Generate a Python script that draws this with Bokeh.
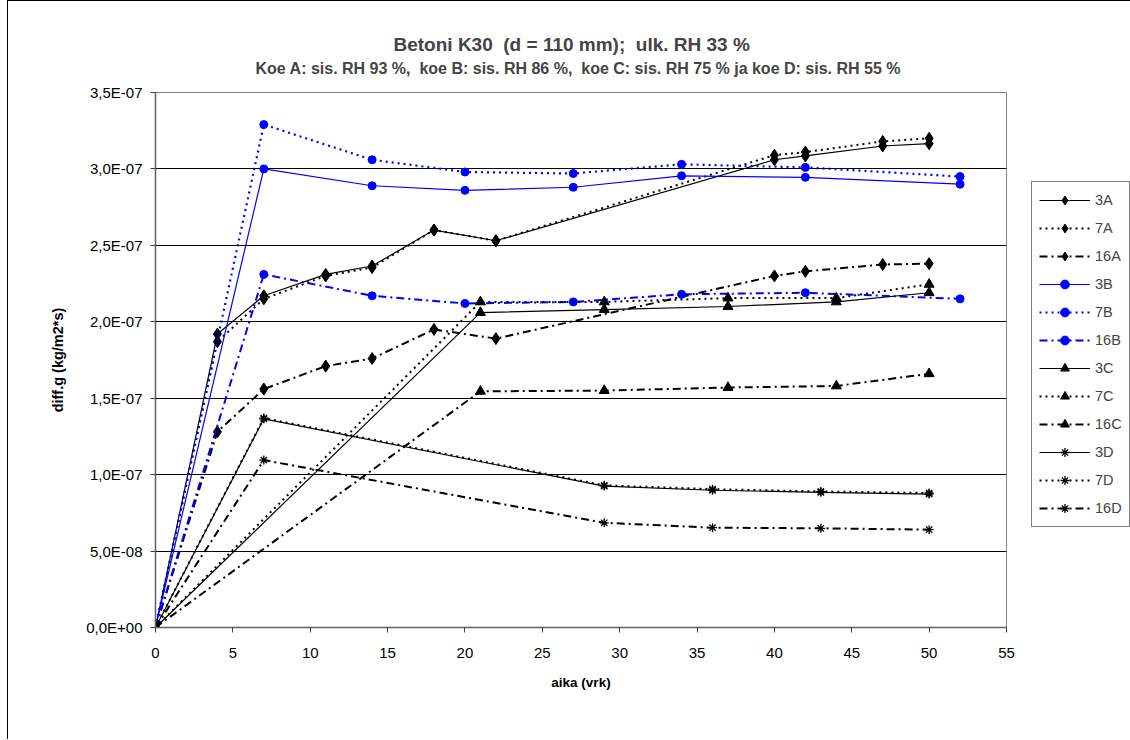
from bokeh.plotting import figure
from bokeh.models import (Range1d, FixedTicker, CustomJSTickFormatter, Legend, LegendItem,
                          Title, ColumnDataSource)
from bokeh.embed import file_html
from bokeh.resources import INLINE

# ---- data (days, kg/m2*s) ----
x_A = [0, 4, 7, 11, 14, 18, 22, 40, 42, 47, 50]
y_3A = [0, 1.92e-7, 2.17e-7, 2.31e-7, 2.365e-7, 2.60e-7, 2.53e-7, 3.06e-7, 3.085e-7, 3.15e-7, 3.165e-7]
y_7A = [0, 1.87e-7, 2.15e-7, 2.30e-7, 2.355e-7, 2.60e-7, 2.53e-7, 3.09e-7, 3.11e-7, 3.18e-7, 3.20e-7]
y_16A = [0, 1.28e-7, 1.56e-7, 1.71e-7, 1.76e-7, 1.95e-7, 1.89e-7, 2.30e-7, 2.33e-7, 2.375e-7, 2.38e-7]

x_B = [0, 7, 14, 20, 27, 34, 42, 52]
y_3B = [0, 3.00e-7, 2.89e-7, 2.86e-7, 2.88e-7, 2.955e-7, 2.945e-7, 2.90e-7]
y_7B = [0, 3.29e-7, 3.06e-7, 2.98e-7, 2.97e-7, 3.03e-7, 3.01e-7, 2.95e-7]
y_16B = [0, 2.31e-7, 2.17e-7, 2.12e-7, 2.13e-7, 2.18e-7, 2.19e-7, 2.15e-7]

x_C = [0, 21, 29, 37, 44, 50]
y_3C = [0, 2.06e-7, 2.08e-7, 2.10e-7, 2.13e-7, 2.19e-7]
y_7C = [0, 2.13e-7, 2.13e-7, 2.155e-7, 2.155e-7, 2.245e-7]
y_16C = [0, 1.545e-7, 1.55e-7, 1.57e-7, 1.58e-7, 1.66e-7]

x_D = [0, 7, 29, 36, 43, 50]
y_3D = [0, 1.365e-7, 0.925e-7, 0.898e-7, 0.884e-7, 0.873e-7]
y_7D = [0, 1.37e-7, 0.93e-7, 0.905e-7, 0.89e-7, 0.88e-7]
y_16D = [0, 1.095e-7, 0.685e-7, 0.653e-7, 0.649e-7, 0.640e-7]

x_ticks = [0, 5, 10, 15, 20, 25, 30, 35, 40, 45, 50, 55]
y_ticks = [0.0, 0.5e-7, 1.0e-7, 1.5e-7, 2.0e-7, 2.5e-7, 3.0e-7, 3.5e-7]

NB = "\u00a0"
title_main = "Betoni K30" + NB + NB + "(d = 110 mm);" + NB + NB + "ulk. RH 33 %"
title_sub = ("Koe A: sis. RH 93 %," + NB + NB + "koe B: sis. RH 86 %," + NB + NB +
             "koe C: sis. RH 75 % ja koe D: sis. RH 55 %")
x_label = "aika (vrk)"
y_label = "diff.g (kg/m2*s)"

FONT = "Liberation Sans"
BLUE = "#0000FF"
BLACK = "#000000"

p = figure(output_backend="svg", toolbar_location=None, title=None,
           frame_width=851, frame_height=535,
           min_border_left=147, min_border_right=122, min_border_top=91, min_border_bottom=112,
           x_range=Range1d(0, 55), y_range=Range1d(0, 3.5e-7))
p.styles = {"margin-left": "7px", "border-left": "1px solid #000", "border-top": "1px solid #000",
            "border-right": "1px solid #444"}

p.outline_line_color = "#808080"
p.outline_line_width = 1
p.background_fill_color = "white"
p.border_fill_color = "white"

p.xgrid.visible = False
p.ygrid.grid_line_color = "black"
p.ygrid.grid_line_width = 1

p.xaxis.ticker = FixedTicker(ticks=x_ticks)
p.yaxis.ticker = FixedTicker(ticks=y_ticks)
p.yaxis.formatter = CustomJSTickFormatter(code="""
var s = tick.toExponential(1).replace('.', ',');
return s.replace(/e([+-])(\\d+)$/, function(m, sg, d){ return 'E' + sg + (d.length < 2 ? '0' + d : d); });
""")
for ax in (p.xaxis[0], p.yaxis[0]):
    ax.axis_line_color = "#606060"
    ax.axis_line_width = 1.5
    ax.major_tick_line_color = "#404040"
    ax.major_tick_in = 0
    ax.major_tick_out = 5
    ax.minor_tick_line_color = None
    ax.major_label_text_font = FONT
    ax.major_label_text_font_size = "15px"
    ax.major_label_text_color = "black"
    ax.axis_label_text_font = FONT
    ax.axis_label_text_font_style = "bold"
    ax.axis_label_text_color = "black"
p.xaxis.axis_label = x_label
p.yaxis.axis_label = y_label
p.xaxis.axis_label_text_font_size = "13.5px"
p.yaxis.axis_label_text_font_size = "14.5px"
p.xaxis.major_label_standoff = 15
p.yaxis.major_label_standoff = 8
p.xaxis.axis_label_standoff = 14
p.yaxis.axis_label_standoff = 17

# spacer between frame and subtitle, then subtitle, then main title
p.add_layout(Title(text=NB, text_font_size="1px", standoff=13), "above")
p.add_layout(Title(text=title_sub, align="left", text_font=FONT, text_font_size="16px",
                   text_font_style="bold", standoff=0, offset=100), "above")
p.add_layout(Title(text=title_main, align="left", text_font=FONT, text_font_size="19px",
                   text_font_style="bold", standoff=5, offset=238), "above")

series = [
    ("3A", x_A, y_3A, BLACK, "solid", 1.2, "diamond", 12),
    ("7A", x_A, y_7A, BLACK, "2 4", 2, "diamond", 12),
    ("16A", x_A, y_16A, BLACK, "8 4 2 4", 2, "diamond", 12),
    ("3B", x_B, y_3B, BLUE, "solid", 1.2, "circle", 8),
    ("7B", x_B, y_7B, BLUE, "2 4", 2.2, "circle", 8),
    ("16B", x_B, y_16B, BLUE, "8 4 2 4", 2, "circle", 8),
    ("3C", x_C, y_3C, BLACK, "solid", 1.2, "triangle", 10),
    ("7C", x_C, y_7C, BLACK, "2 4", 2, "triangle", 10),
    ("16C", x_C, y_16C, BLACK, "8 4 2 4", 2, "triangle", 10),
    ("3D", x_D, y_3D, BLACK, "solid", 1.2, "asterisk", 9),
    ("7D", x_D, y_7D, BLACK, "2 4", 2, "asterisk", 9),
    ("16D", x_D, y_16D, BLACK, "8 4 2 4", 2, "asterisk", 9),
]

items = []
for name, xs, ys, col, dash, lw, mk, sz in series:
    src = ColumnDataSource(dict(x=xs, y=ys))
    mk_lw = 1.3 if mk == "asterisk" else 1
    r1 = p.line("x", "y", source=src, line_color=col, line_dash=dash, line_width=lw)
    r2 = p.scatter("x", "y", source=src, marker=mk, size=sz,
                   fill_color=col, line_color=col, line_width=mk_lw)
    items.append(LegendItem(label=name, renderers=[r1, r2]))

legend = Legend(items=items, location=(25, 100), margin=0, padding=7, spacing=6,
                glyph_width=51, glyph_height=22, label_height=22, label_standoff=5,
                label_text_font=FONT, label_text_font_size="14.5px",
                border_line_color="black", border_line_width=1,
                background_fill_color="white", background_fill_alpha=1)
p.add_layout(legend, "right")

open("out.html", "w").write(file_html(p, INLINE))
